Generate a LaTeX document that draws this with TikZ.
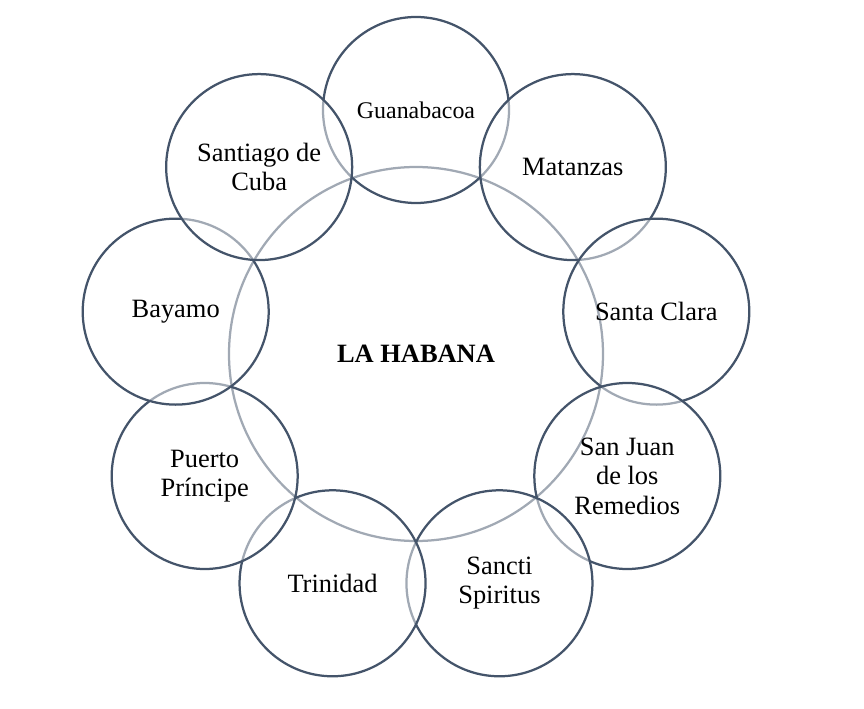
\documentclass[tikz,border=0pt]{standalone}
\usepackage{fontspec}
\setmainfont{Liberation Serif}
\usepackage{tikz}
\definecolor{slate}{HTML}{44546A}

\begin{document}
\begin{tikzpicture}[
		city/.style={circle,draw=slate,line width=1.6pt,fill=white,fill opacity=0.5,text opacity=1,
			minimum size=4.65cm,inner sep=0pt,align=center,font=\fontsize{18.8}{20.9}\selectfont},
		capital/.style={circle,draw=slate,line width=1.6pt,minimum size=9.35cm,inner sep=0pt,
			font=\fontsize{18.8}{20.9}\selectfont\bfseries}]
		\useasboundingbox (-10.4,-8.85) rectangle (11.2,8.85);
		\node[capital] (habana) at (0,0) {LA HABANA};
		\node[city,font=\fontsize{17}{19}\selectfont] (guanabacoa) at (90:6.1) {Guanabacoa};
		\node[city] (matanzas) at (50:6.1) {Matanzas};
		\node[city] (santaclara) at (10:6.1) {Santa Clara};
		\node[city] (sanjuan) at (-30:6.1) {San Juan\\de los\\Remedios};
		\node[city] (sancti) at (-70:6.1) {Sancti\\Spiritus};
		\node[city] (trinidad) at (-110:6.1) {Trinidad};
		\node[city] (puerto) at (-150:6.1) {Puerto\\Príncipe};
		\node[city] (bayamo) at (170:6.1) {Bayamo};
		\node[city] (santiago) at (130:6.1) {Santiago de\\Cuba};
\end{tikzpicture}
\end{document}
